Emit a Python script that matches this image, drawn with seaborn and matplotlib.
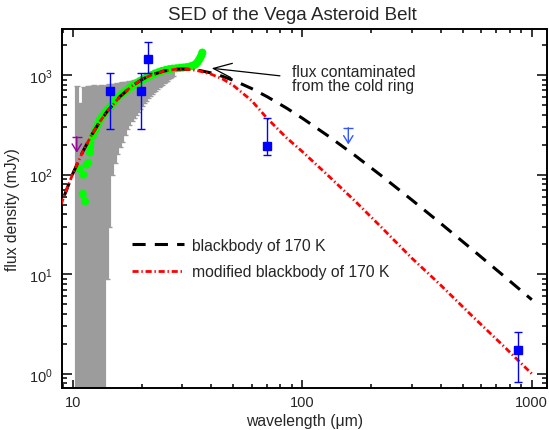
#!/usr/bin/env python3
"""
SED of the Vega asteroid belt.

IRS spectrum (grey error bars + green points), photometry (blue squares),
upper limits and 170 K blackbody / modified blackbody curves.

Output:
    out.png
"""

import matplotlib

matplotlib.use("Agg")
import matplotlib.pyplot as plt
import seaborn as sns
from matplotlib.ticker import LogLocator, NullFormatter

# --- 170 K blackbody and modified blackbody (mJy) ---
bb_wave = [8.5, 9, 10, 11, 12, 13, 14, 16, 18, 20, 22, 25, 28, 30, 33, 36, 40,
           45, 50, 60, 70, 85, 100, 130, 170, 220, 300, 400, 550, 750, 1000]
bb_flux = [37.8, 55.4, 103.6, 168, 246, 333, 424, 607, 770, 904, 1004, 1100,
           1143, 1150, 1138, 1106, 1050, 968, 885, 733, 608, 468, 368, 243,
           155, 98.2, 55.7, 32.5, 17.7, 9.73, 5.55]
mbb_flux = [37.8, 55.4, 103.6, 168, 246, 333, 424, 607, 770, 904, 1004, 1100,
            1143, 1148, 1132, 1090, 1020, 910, 785, 555, 370, 236, 170, 97,
            54, 29.9, 14.5, 7.8, 3.8, 1.92, 1.0]

# --- IRS spectrum error bars (grey) ---
gray_wave = [10.4, 10.8, 11.2, 11.6, 12.0, 12.4, 12.8, 13.2, 13.6, 14.0, 14.4,
             14.8, 15.2, 15.6, 16.0, 16.4, 16.8, 17.2, 17.6, 18.0, 18.4, 18.8,
             19.2, 19.6, 20.0, 20.4, 20.8, 21.2, 21.6, 22.0, 22.4, 22.8, 23.2,
             23.6, 24.0, 24.4, 24.8, 25.2, 25.6, 26.0, 26.4, 26.8, 27.2]
gray_low = [0.1, 0.1, 0.1, 0.1, 0.1, 0.1, 0.1, 0.1, 0.1, 9, 30,
            100, 130, 160, 190, 215, 250, 285, 315, 345, 370, 395,
            425, 455, 490, 520, 550, 585, 615, 645, 670, 695, 720,
            750, 775, 800, 830, 855, 880, 905, 930, 955, 980]
gray_high = [770, 530, 760, 780, 770, 790, 775, 790, 780, 800, 810,
             805, 820, 830, 835, 845, 850, 860, 870, 880, 890, 900,
             915, 930, 950, 965, 985, 1000, 1020, 1040, 1060, 1080, 1100,
             1120, 1140, 1160, 1175, 1190, 1200, 1210, 1220, 1225, 1230]

# --- IRS spectrum points (green) ---
green_wave = [10.65, 11.02, 11.09, 11.28, 11.47, 11.66, 11.86, 11.86,
              11.9, 12.2, 12.5, 12.8, 13.1, 13.4, 13.8, 14.2, 14.6, 15.0,
              15.4, 15.8, 16.3, 16.8, 17.3, 17.8, 18.3, 18.9, 19.5, 20.1,
              20.7, 21.4, 22.1, 22.8, 23.6, 24.4, 25.3, 26.2, 27.2, 28.2,
              29.2, 30.2, 31.2, 32.2, 33.0, 33.8, 34.4, 34.9, 35.4, 35.9,
              36.3, 36.6]
green_flux = [115, 64, 100, 54, 126, 132, 167, 192,
              210, 245, 280, 315, 355, 385, 420, 455, 490, 530,
              570, 605, 645, 680, 715, 755, 790, 830, 865, 900,
              935, 970, 1005, 1040, 1070, 1100, 1125, 1145, 1160, 1170,
              1180, 1190, 1200, 1215, 1235, 1260, 1300, 1350, 1420, 1500,
              1580, 1680]

# --- photometry (blue squares) ---
phot_wave = [14.5, 19.8, 21.3, 69.8, 871]
phot_flux = [694, 694, 1450, 196, 1.73]
phot_err_lo = [405, 405, 400, 39, 0.9]
phot_err_hi = [356, 356, 720, 178, 0.88]

# --- upper limits ---
ul_blue_wave = [158.5]
ul_blue_top = [296]
ul_blue_tip = [201]
ul_purple_wave = [10.38]
ul_purple_top = [240]
ul_purple_tip = [166]

xtick_vals = [10, 100, 1000]
xtick_labels = ["10", "100", "1000"]

FS = 11.3
GREY = "#9c9c9c"


def upper_limit(ax, waves, tops, tips, color):
    for w, top, tip in zip(waves, tops, tips):
        ax.annotate("", xy=(w, tip), xytext=(w, top),
                    arrowprops=dict(arrowstyle="->,head_length=0.45,head_width=0.28",
                                    color=color, lw=1.0, shrinkA=0, shrinkB=0),
                    zorder=6)
    ax.plot(waves, tops, ls="none", marker="_", ms=7, mew=1.0, color=color, zorder=6)


def main():
    sns.set_theme(style="ticks")
    plt.rcParams["font.family"] = ["Liberation Sans", "DejaVu Sans"]
    plt.rcParams["mathtext.fontset"] = "custom"
    plt.rcParams["mathtext.rm"] = "Liberation Sans"
    plt.rcParams["mathtext.it"] = "Liberation Sans:italic"

    fig = plt.figure(figsize=(5.49, 4.31), dpi=100)
    ax = fig.add_axes([62 / 549, 42 / 431, 485 / 549, 359 / 431])
    ax.set_xscale("log")
    ax.set_yscale("log")

    # spectrum error bars
    ax.vlines(gray_wave, gray_low, gray_high, color=GREY, lw=3.0, zorder=1)
    ax.plot(gray_wave, gray_high, ls="none", marker="_", ms=4, mew=1.0, color=GREY, zorder=1)
    ax.plot(gray_wave, gray_low, ls="none", marker="_", ms=4, mew=1.0, color=GREY, zorder=1)

    sns.scatterplot(x=green_wave, y=green_flux, color="#00ff00", s=34, edgecolor="none",
                    linewidth=0, ax=ax, zorder=2)

    sns.lineplot(x=bb_wave, y=bb_flux, color="black", lw=2.2, linestyle=(0, (4.3, 3.0)),
                 estimator=None, sort=False, ax=ax, zorder=3)
    bb_line = ax.lines[-1]
    sns.lineplot(x=bb_wave, y=mbb_flux, color="red", lw=2.0, linestyle=(0, (2.2, 1.0, 0.5, 1.0)),
                 estimator=None, sort=False, ax=ax, zorder=4)
    mbb_line = ax.lines[-1]

    ax.errorbar(phot_wave, phot_flux, yerr=[phot_err_lo, phot_err_hi], fmt="s", color="blue",
                ms=6.2, elinewidth=1.0, capsize=3, capthick=1.0, zorder=5)

    upper_limit(ax, ul_blue_wave, ul_blue_top, ul_blue_tip, "#3355ff")
    upper_limit(ax, ul_purple_wave, ul_purple_top, ul_purple_tip, "#990099")

    # annotation
    ax.annotate("", xy=(40.2, 1170), xytext=(79.8, 982),
                arrowprops=dict(arrowstyle="->,head_length=1.1,head_width=0.43",
                                color="black", lw=0.9, shrinkA=0, shrinkB=0))
    ax.text(90, 922, "flux contaminated\nfrom the cold ring", ha="left", va="center",
            fontsize=FS, linespacing=0.95)

    ax.legend([bb_line, mbb_line], ["blackbody of 170 K", "modified blackbody of 170 K"],
              loc="upper left", bbox_to_anchor=(0.144, 0.419), frameon=False,
              handlelength=3.3, handletextpad=0.55, labelspacing=0.75,
              borderpad=0, borderaxespad=0, fontsize=FS)

    ax.set_xlim(8.95, 1165)
    ax.set_ylim(0.72, 2900)
    ax.set_xticks(xtick_vals)
    ax.set_xticklabels(xtick_labels)
    ax.xaxis.set_minor_locator(LogLocator(base=10, subs=range(2, 10), numticks=20))
    ax.xaxis.set_minor_formatter(NullFormatter())
    ax.yaxis.set_major_locator(LogLocator(base=10, numticks=20))
    ax.yaxis.set_minor_locator(LogLocator(base=10, subs=range(2, 10), numticks=20))
    ax.yaxis.set_minor_formatter(NullFormatter())

    ax.tick_params(which="both", direction="in", top=True, right=True, width=1.1,
                   color="black", labelsize=10.5)
    ax.tick_params(axis="x", which="major", length=5.5, pad=5)
    ax.tick_params(axis="x", which="minor", length=2.9)
    ax.tick_params(axis="y", which="major", length=7.2, pad=7)
    ax.tick_params(axis="y", which="minor", length=3.6)
    for s in ax.spines.values():
        s.set_linewidth(1.4)
        s.set_color("black")

    ax.set_xlabel("wavelength (μm)", fontsize=FS, labelpad=3)
    ax.set_ylabel("flux density (mJy)", fontsize=FS, labelpad=6)
    fig.text(292 / 549, 1 - 15 / 431, "SED of the Vega Asteroid Belt", ha="center", va="center",
             fontsize=13.5)

    fig.savefig("out.png", dpi=100)
    plt.close(fig)


if __name__ == "__main__":
    main()
